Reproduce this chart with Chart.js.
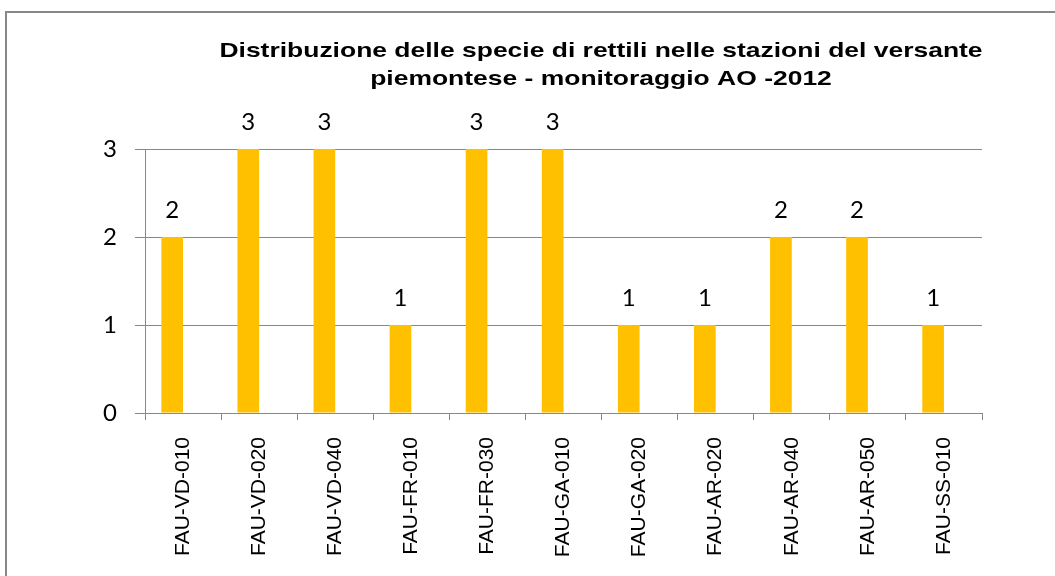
<!DOCTYPE html>
<html><head><meta charset="utf-8">
<script src="https://cdn.jsdelivr.net/npm/chart.js@4.4.1/dist/chart.umd.min.js"></script>
<style>
html,body{margin:0;padding:0;background:#fff;overflow:hidden;}
#wrap{position:absolute;left:0;top:0;width:1055px;height:576px;}
#frame{position:absolute;left:5px;top:11px;width:1100px;height:640px;border:2px solid #888;box-sizing:border-box;}
canvas{position:absolute;left:0;top:0;}
</style></head>
<body><div id="wrap"><div id="frame"></div><canvas id="c" width="1055" height="576"></canvas></div>
<script>
const titleLines = ["Distribuzione delle specie di rettili nelle stazioni del versante", "piemontese - monitoraggio AO -2012"];
const categories = ["FAU-VD-010","FAU-VD-020","FAU-VD-040","FAU-FR-010","FAU-FR-030","FAU-GA-010","FAU-GA-020","FAU-AR-020","FAU-AR-040","FAU-AR-050","FAU-SS-010"];
const speciesCount = [2,3,3,1,3,3,1,1,2,2,1];
const emptySeries = [null,null,null,null,null,null,null,null,null,null,null];
const yTicks = [0,1,2,3];

const titlePlugin = {
  id:'titlePlugin',
  afterDraw(chart){
    const ctx = chart.ctx;
    ctx.save();
    ctx.fillStyle = '#000';
    ctx.font = 'bold 21px "Liberation Sans", Arial, sans-serif';
    ctx.textAlign = 'center';
    ctx.textBaseline = 'middle';
    const sx = 1.26;
    ctx.translate(601, 0);
    ctx.scale(sx, 1);
    ctx.fillText(titleLines[0], 0, 51);
    ctx.fillText(titleLines[1], 0, 79);
    ctx.restore();
  }
};
const labelPlugin = {
  id:'labelPlugin',
  afterDatasetsDraw(chart){
    const ctx = chart.ctx;
    const meta = chart.getDatasetMeta(0);
    ctx.save();
    ctx.fillStyle = '#000';
    ctx.font = '24px Lato, "Open Sans", sans-serif';
    ctx.textAlign = 'center';
    ctx.textBaseline = 'middle';
    meta.data.forEach((bar,i)=>{
      ctx.fillText(String(speciesCount[i]), bar.x, bar.y - 27);
    });
    ctx.restore();
  }
};

new Chart(document.getElementById('c'), {
  type:'bar',
  data:{labels:categories, datasets:[
    {data:speciesCount, backgroundColor:'#FFC000', borderWidth:0, barPercentage:1, categoryPercentage:0.57},
    {data:emptySeries, backgroundColor:'#FFC000', borderWidth:0, barPercentage:1, categoryPercentage:0.57}
  ]},
  options:{
    responsive:false, animation:false,
    layout:{padding:{left:0, top:149, right:73, bottom:0}},
    plugins:{legend:{display:false}, title:{display:false}, tooltip:{enabled:false}},
    scales:{
      x:{
        offset:true,
        grid:{display:true, drawOnChartArea:false, drawTicks:true, tickLength:7, color:'#888', offset:true},
        border:{display:true, color:'#888', width:1},
        ticks:{minRotation:90, maxRotation:90, autoSkip:false, padding:17, color:'#000',
          font:{family:'"Liberation Sans", Arial, sans-serif', size:21}},
        afterFit(s){ s.height = 163; }
      },
      y:{
        min:0, max:3,
        afterBuildTicks(s){ s.ticks = yTicks.map(v=>({value:v})); },
        grid:{color:'#888', lineWidth:1, tickLength:10, drawTicks:true},
        border:{display:true, color:'#888', width:1},
        ticks:{padding:18, color:'#000', font:{family:'Lato, "Open Sans", sans-serif', size:24}},
        afterFit(s){ s.width = 145; }
      }
    }
  },
  plugins:[titlePlugin, labelPlugin]
});
</script></body></html>
